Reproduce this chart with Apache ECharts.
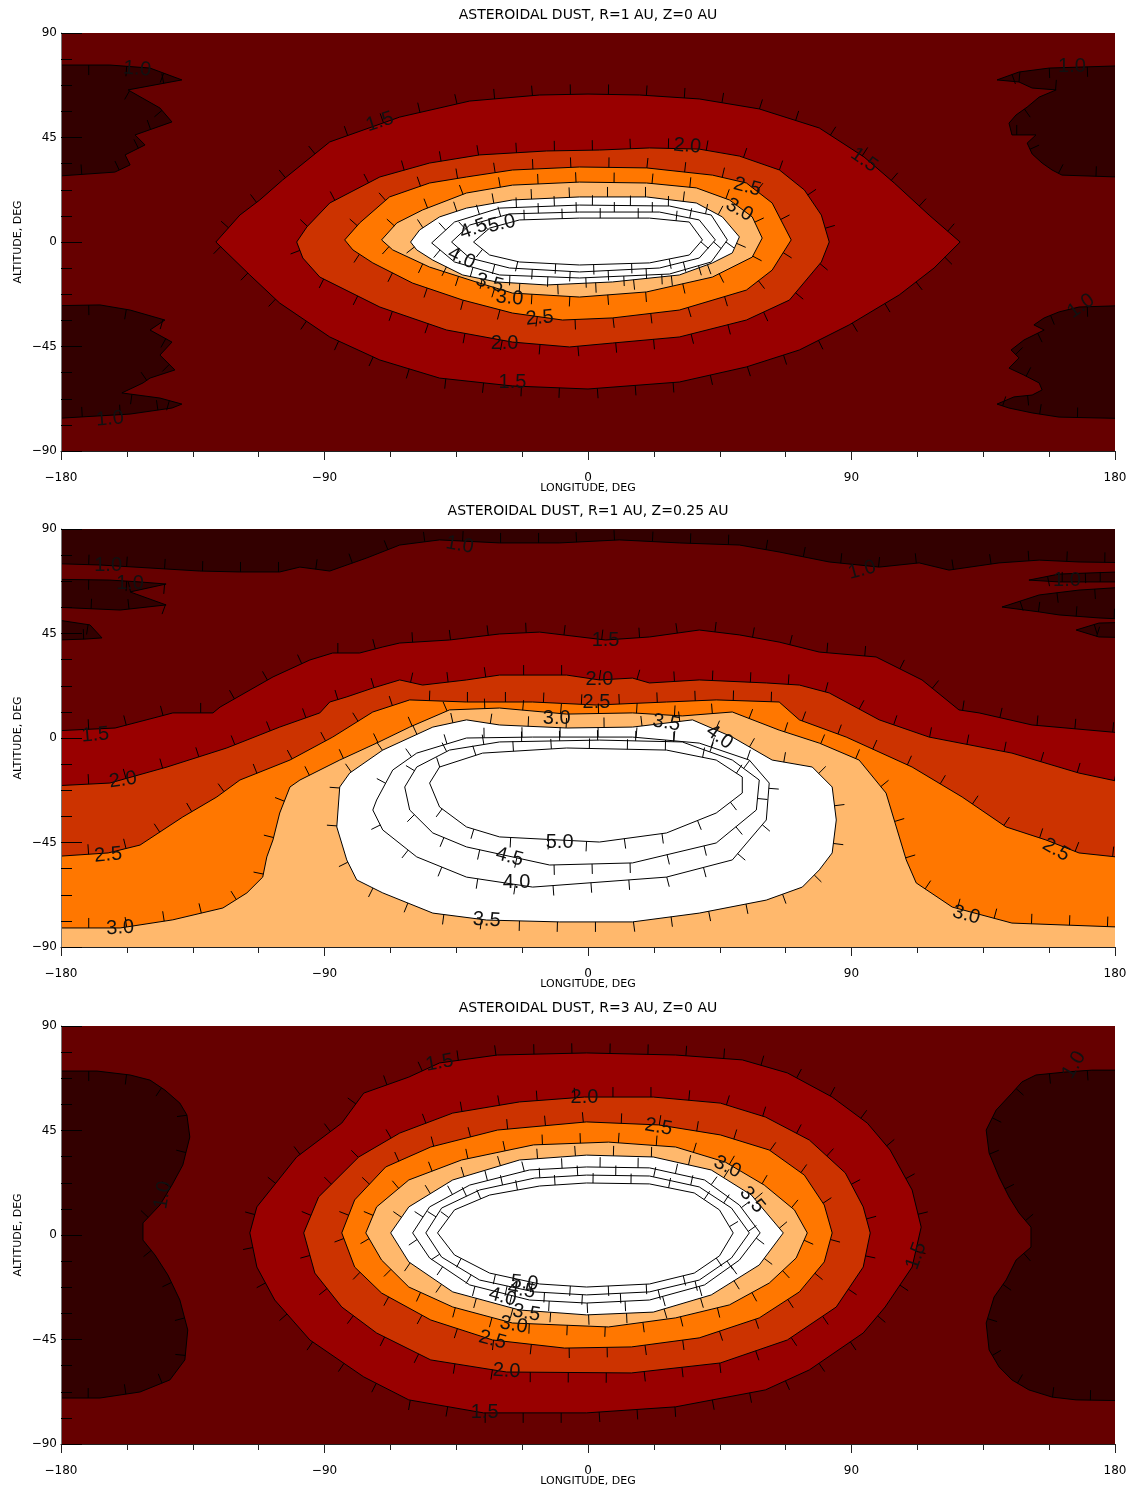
<!DOCTYPE html>
<html><head><meta charset="utf-8">
<script src="https://cdn.jsdelivr.net/npm/echarts@6/dist/echarts.min.js"></script>
<style>html,body{margin:0;padding:0;background:#fff}#c{width:1147px;height:1495px}</style>
</head><body><div id="c"></div>
<script>
// ---------------- DATA (longitude, altitude in degrees) ----------------
const TITLES = ['ASTEROIDAL DUST, R=1 AU, Z=0 AU', 'ASTEROIDAL DUST, R=1 AU, Z=0.25 AU', 'ASTEROIDAL DUST, R=3 AU, Z=0 AU'];
const X_TICKS = [-180, -90, 0, 90, 180];
const Y_TICKS = [-90, -45, 0, 45, 90];

// Panel 1: R=1 AU, Z=0 AU
const P1_LOW_NW = [[-190,76.2],[-163.3,76.2],[-149.6,74.9],[-138.7,69.8],[-157.1,65.5],[-146.2,57.7],[-142.1,51.7],[-154.7,46.1],[-151.3,41.8],[-158.1,37.5],[-156.4,33.2],[-161.6,30.1],[-190,27.6]];
const P1_LOW_SW = [[-190,-27.6],[-166.7,-27.1],[-156.4,-29.3],[-144.5,-33.6],[-149.6,-37.9],[-142.1,-43.1],[-146.2,-48.7],[-141.1,-55.1],[-149.6,-58.6],[-152.0,-60.7],[-159.2,-65.0],[-146.2,-67.2],[-138.7,-69.8],[-142.1,-71.5],[-156.4,-74.1],[-190,-76.6]];
const P1_LOW_NE = [[190,76.2],[157.5,74.9],[147.2,73.2],[139.7,69.8],[147.2,68.9],[151.7,66.3],[159.9,65.5],[154.1,62.4],[150.0,58.1],[146.2,54.7],[143.8,51.2],[144.8,46.1],[153.0,46.1],[150.0,42.6],[151.7,37.9],[155.1,34.0],[158.5,31.0],[161.9,28.8],[190,27.6]];
const P1_LOW_SE = [[190,-27.1],[167.7,-28.0],[160.9,-30.1],[155.8,-32.7],[152.3,-35.7],[155.8,-37.9],[148.9,-42.2],[144.5,-46.5],[147.2,-49.9],[143.8,-54.3],[148.9,-57.3],[154.1,-60.7],[155.1,-63.7],[151.7,-65.9],[145.5,-66.7],[139.7,-69.8],[143.8,-71.5],[151.7,-73.6],[160.9,-75.4],[190,-76.2]];
const P1_C15 = [[-127.1,0],[-118.9,11.6],[-112.1,18.1],[-104.3,26.7],[-88.2,43.1],[-64.3,53.8],[-40.4,60.7],[-16.5,63.3],[0,63.7],[17.6,63.3],[38.0,61.6],[58.5,57.3],[79.0,49.1],[94.3,36.6],[104.6,25.4],[116.5,11.6],[127.1,0],[118.2,-11.2],[106.3,-22.8],[89.2,-35.7],[72.2,-46.5],[54.1,-53.8],[31.2,-60.3],[0,-63.3],[-25.8,-62.0],[-50.7,-58.6],[-71.1,-50.8],[-88.2,-40.9],[-105.3,-26.3],[-115.5,-14.2]];
const P1_C20 = [[-99.5,0],[-96.0,6.5],[-88.2,16.8],[-71.1,28.0],[-54.1,34.0],[-37.0,37.5],[-14.2,39.2],[3.9,39.6],[21.0,40.5],[38.0,40.0],[51.7,37.0],[65.4,31.0],[73.9,22.4],[79.7,11.6],[82.4,0],[79.7,-8.6],[68.8,-25.0],[54.1,-33.6],[31.2,-40.9],[8.4,-43.5],[-6.3,-45.2],[-25.8,-43.1],[-48.3,-37.9],[-71.1,-28.0],[-91.6,-15.1],[-97.4,-6.9]];
const P1_C25 = [[-83.1,0.9],[-78.0,8.2],[-67.8,19.4],[-54.1,25.4],[-41.5,28.0],[-25.8,31.0],[-2.9,32.3],[20.0,31.9],[42.5,28.8],[54.1,25.4],[62.9,16.8],[69.4,0.9],[62.9,-12.1],[54.1,-20.7],[31.2,-29.3],[8.4,-32.7],[-8.7,-33.6],[-25.8,-30.6],[-42.8,-25.0],[-59.9,-17.7],[-73.5,-9.0],[-80.3,-3.4]];
const P1_C30 = [[-70.5,0.9],[-65.3,8.2],[-56.5,13.8],[-41.5,21.1],[-25.8,24.5],[-2.9,25.8],[20.0,25.4],[37.0,23.3],[48.3,18.1],[56.1,10.8],[59.5,1.7],[56.1,-6.5],[42.5,-15.1],[20.0,-21.5],[-2.9,-23.7],[-25.8,-22.0],[-37.0,-17.7],[-54.1,-10.8],[-66.7,-3.4]];
const P1_C35 = [[-60.6,0],[-57.5,5.2],[-50.7,10.8],[-41.5,14.6],[-25.8,18.1],[-2.9,19.4],[20.0,19.4],[37.0,16.8],[45.9,10.8],[51.7,2.2],[49.3,-4.7],[42.5,-9.0],[31.2,-14.2],[8.4,-17.2],[-14.2,-18.5],[-31.2,-17.2],[-42.8,-14.2],[-53.0,-7.8],[-58.5,-3.4]];
const P1_C40 = [[-53.4,-0.4],[-45.6,8.6],[-30.2,14.6],[-2.9,15.9],[27.8,15.5],[42.1,11.6],[47.6,0.9],[42.1,-8.6],[27.8,-13.8],[-2.9,-15.5],[-30.2,-14.2],[-45.6,-8.6]];
const P1_C45 = [[-46.6,0],[-40.4,7.3],[-26.8,12.1],[-2.9,12.9],[24.4,12.9],[38.0,9.5],[43.5,0.9],[38.0,-6.9],[24.4,-11.2],[-2.9,-12.9],[-26.8,-11.2],[-40.4,-6.9]];
const P1_C50 = [[-39.1,0],[-33.6,6.0],[-23.4,9.5],[-2.9,10.3],[21.0,10.3],[34.6,8.6],[39.1,0.9],[34.6,-5.6],[21.0,-9.0],[-2.9,-9.9],[-23.4,-8.6],[-33.6,-5.6]];
const P1_LABELS = [[-154.0,74.5,'1.0',-5],[165.3,75.4,'1.0',0],[-163.3,-76.2,'1.0',5],[168.4,-27.6,'1.0',35],
  [-71.1,51.7,'1.5',18],[94.3,35.3,'1.5',-35],[-25.8,-60.7,'1.5',0],[33.9,41.3,'2.0',-5],[-28.5,-43.5,'2.0',0],
  [54.4,23.7,'2.5',-15],[-16.5,-32.7,'2.5',5],[51.7,13.8,'3.0',-30],[-26.8,-24.1,'3.0',-5],[-33.6,-17.7,'3.5',-15],
  [-43.2,-6.9,'4.0',-25],[-39.1,5.6,'4.5',20],[-29.5,7.8,'5.0',12]];

// Panel 2: R=1 AU, Z=0.25 AU
const P2_LOW_TOP = [[-190,75.4],[-166.7,74.5],[-149.6,73.2],[-132.6,71.9],[-118.9,71.5],[-105.3,71.5],[-98.4,73.6],[-88.2,71.9],[-75.6,77.5],[-64.3,83.1],[-50.7,85.3],[-30.2,84.0],[-9.7,84.0],[10.7,85.3],[31.2,84.0],[51.7,83.1],[65.3,80.1],[82.4,75.8],[99.5,73.6],[113.1,75.4],[123.3,72.3],[140.4,75.4],[154.1,76.6],[167.7,75.8],[190,75.4],[190,100],[-190,100]];
const P2_LOW_W1 = [[-190,68.5],[-163.3,68.0],[-153.0,67.2],[-144.1,66.3],[-156.4,62.9],[-144.1,57.3],[-159.8,55.1],[-190,56.8]];
const P2_LOW_W2 = [[-190,52.5],[-170.1,48.7],[-166.0,43.1],[-171.8,42.6],[-190,41.8]];
const P2_LOW_E1 = [[150.6,68.0],[160.9,70.6],[190,71.9],[190,67.2],[160.9,67.2]];
const P2_LOW_E2 = [[141.4,56.4],[154.1,61.6],[167.7,63.7],[190,65.5],[190,50.8],[174.5,51.7],[160.9,53.0],[154.1,54.3]];
const P2_LOW_E3 = [[166.7,46.5],[174.5,49.5],[190,50.0],[190,43.1],[174.5,43.5]];
const P2_C15 = [[-190,2.6],[-161.5,4.3],[-147.2,9.0],[-141.8,10.8],[-128.1,10.8],[-125.7,13.3],[-107.6,26.3],[-95.0,33.6],[-87.2,36.6],[-78.0,36.6],[-70.1,39.2],[-64.3,40.9],[-47.3,42.2],[-30.2,44.8],[-16.5,45.6],[6.0,42.2],[21.0,43.5],[38.0,46.5],[51.7,44.4],[65.3,41.3],[79.0,37.0],[98.4,34.9],[114.1,25.0],[126.7,12.1],[133.6,10.8],[151.7,5.6],[190,1.3],[190,-100],[-190,-100]];
const P2_C20 = [[-190,-21.1],[-163.3,-19.4],[-143.8,-12.5],[-123.4,-4.3],[-105.3,4.7],[-91.6,10.8],[-88.2,15.5],[-82.4,17.7],[-73.5,21.5],[-64.3,25.0],[-56.5,22.8],[-41.5,25.0],[-30.2,27.1],[-7.3,27.1],[3.9,25.0],[15.2,25.8],[21.0,23.7],[38.0,25.0],[60.9,23.7],[72.2,22.8],[82.4,19.4],[99.5,7.8],[116.5,0.4],[144.8,-6.5],[167.7,-15.1],[190,-21.1],[190,-100],[-190,-100]];
const P2_C25 = [[-190,-51.7],[-163.9,-49.5],[-153.0,-46.1],[-138.4,-34.0],[-126.8,-25.4],[-118.9,-18.1],[-101.8,-9.5],[-87.2,0.4],[-73.5,11.2],[-60.9,16.4],[-41.5,15.5],[-18.9,15.5],[2.9,14.2],[26.8,15.5],[43.8,16.4],[65.3,15.5],[72.2,7.8],[88.2,0.4],[110.7,-12.5],[127.8,-25.4],[142.8,-38.3],[156.4,-43.9],[167.7,-49.5],[190,-52.5],[190,-100],[-190,-100]];
const P2_C30 = [[-190,-81.8],[-159.8,-81.8],[-141.8,-78.3],[-124.7,-73.2],[-116.5,-66.7],[-111.1,-59.9],[-109.7,-51.2],[-107.6,-43.9],[-105.3,-32.3],[-101.8,-21.1],[-98.4,-18.1],[-84.8,-9.5],[-72.2,-2.2],[-60.9,4.7],[-47.3,12.1],[-30.2,12.9],[-7.3,10.3],[15.2,10.8],[32.2,9.5],[49.3,11.2],[65.3,3.4],[79.0,-2.2],[92.6,-9.5],[101.8,-23.7],[105.3,-38.3],[108.7,-52.5],[112.1,-62.4],[124.4,-72.8],[144.8,-79.7],[190,-81.8],[190,-100],[-190,-100]];
const P2_C35 = [[-84.8,-21.1],[-81.4,-15.1],[-70.1,-5.2],[-53.0,4.7],[-41.5,7.8],[-30.2,5.6],[-7.3,4.3],[15.2,4.7],[35.7,7.8],[49.3,0.4],[62.9,-9.5],[76.6,-12.5],[83.4,-21.1],[84.8,-35.3],[83.4,-49.5],[79.0,-56.8],[73.2,-64.2],[60.9,-69.8],[38.0,-75.4],[15.2,-79.2],[-9.7,-79.2],[-34.6,-78.4],[-53.0,-75.4],[-70.1,-66.7],[-79.0,-61.1],[-82.4,-52.5],[-85.8,-38.3]];
const P2_C40 = [[-72.2,-26.7],[-66.7,-13.8],[-58.5,-6.5],[-41.5,0],[-18.9,0.4],[15.2,0.4],[38.0,-2.2],[55.1,-9.5],[61.9,-19.4],[60.9,-35.3],[49.3,-52.5],[26.8,-59.9],[-18.9,-64.2],[-41.5,-59.9],[-58.5,-51.2],[-70.1,-39.6],[-73.5,-31.0]];
const P2_C45 = [[-62.6,-21.1],[-58.5,-12.5],[-47.3,-5.2],[-30.2,-1.7],[3.9,-0.9],[32.2,-1.7],[49.3,-9.5],[58.5,-18.1],[57.5,-31.0],[43.8,-45.2],[15.2,-53.8],[-13.1,-54.7],[-41.5,-46.9],[-53.0,-40.9],[-60.9,-31.0]];
const P2_C50 = [[-54.1,-19.4],[-50.7,-12.5],[-36.0,-6.5],[-7.3,-4.3],[26.8,-5.2],[43.8,-9.5],[52.7,-16.8],[52.7,-23.7],[43.8,-32.3],[26.8,-40.9],[3.9,-44.8],[-30.2,-42.6],[-41.5,-38.3],[-50.7,-29.7]];
const P2_LABELS = [[-163.9,74.5,'1.0',0],[-156.4,66.7,'1.0',0],[-43.8,83.1,'1.0',-10],[93.6,72.3,'1.0',15],[163.6,68.0,'1.0',0],
  [-168.3,1.3,'1.5',5],[6.0,41.8,'1.5',0],[-158.8,-18.1,'2.0',8],[3.9,25.0,'2.0',0],
  [-163.9,-50.4,'2.5',5],[2.9,15.1,'2.5',0],[159.9,-48.2,'2.5',-30],
  [-159.8,-81.8,'3.0',3],[-10.7,8.6,'3.0',0],[129.2,-76.2,'3.0',-15],
  [-34.6,-78.4,'3.5',-3],[26.8,6.5,'3.5',-10],[-24.4,-62.4,'4.0',0],[44.9,0.4,'4.0',-35],
  [-26.8,-51.2,'4.5',-15],[-9.7,-45.2,'5.0',0]];

// Panel 3: R=3 AU, Z=0 AU
const P3_LOW_W = [[-190,70.6],[-167.7,70.6],[-156.4,68.9],[-149.6,66.7],[-144.5,62.4],[-139.4,56.8],[-137.0,51.7],[-136.0,42.2],[-138.4,30.1],[-142.1,21.5],[-146.2,12.9],[-152.0,5.2],[-152.0,-2.2],[-147.9,-8.6],[-143.5,-17.2],[-139.4,-28.0],[-136.7,-40.9],[-137.7,-53.8],[-142.8,-62.4],[-153.0,-67.6],[-166.7,-70.2],[-190,-70.2]];
const P3_LOW_E = [[190,71.0],[172.1,71.0],[163.3,70.2],[153.0,68.9],[148.2,65.9],[144.8,61.1],[139.4,53.8],[136.0,45.2],[137.0,35.3],[140.4,25.0],[143.8,16.4],[147.2,9.5],[151.3,3.4],[151.3,-5.2],[146.2,-10.8],[142.8,-19.4],[138.7,-26.7],[136.0,-37.9],[137.0,-49.5],[140.4,-56.8],[144.8,-62.4],[150.6,-66.7],[158.5,-69.8],[166.7,-71.0],[190,-71.5]];
const P3_C15 = [[-115.5,0.9],[-113.1,12.1],[-99.5,33.6],[-84.1,48.2],[-76.6,61.1],[-61.2,68.0],[-50.7,74.1],[-30.9,77.5],[-0.5,78.4],[29.9,77.5],[52.7,75.4],[68.1,69.8],[83.4,59.4],[95.4,48.2],[103.2,36.6],[110.7,19.4],[113.8,3.4],[110.7,-13.8],[101.5,-31.0],[94.0,-42.2],[75.6,-58.1],[60.6,-66.7],[29.9,-74.0],[-0.5,-76.6],[-35.7,-76.6],[-61.2,-71.0],[-76.6,-61.1],[-95.0,-45.2],[-107.0,-28.0],[-113.1,-13.8]];
const P3_C20 = [[-97.1,0.9],[-92.0,16.4],[-78.3,33.6],[-64.3,43.9],[-46.2,52.5],[-23.4,57.3],[-1.2,59.4],[22.3,59.4],[45.2,56.8],[60.6,50.8],[75.6,40.9],[87.9,26.7],[94.0,12.1],[96.4,0.9],[94.0,-13.8],[84.8,-31.0],[68.1,-45.2],[45.2,-55.1],[14.8,-59.4],[-27.8,-59.0],[-53.7,-53.8],[-72.2,-42.2],[-84.1,-31.0],[-93.3,-16.4]];
const P3_C25 = [[-84.1,0.9],[-79.7,15.1],[-69.1,29.3],[-53.7,37.9],[-30.9,45.2],[-0.5,48.7],[24.1,47.4],[45.2,43.1],[61.9,36.6],[73.9,25.8],[80.7,12.9],[83.4,0.9],[80.7,-11.6],[72.2,-24.5],[58.5,-35.7],[38.0,-44.3],[14.8,-48.2],[-8.0,-48.7],[-32.6,-45.2],[-53.7,-36.6],[-70.5,-25.0],[-79.7,-13.8]];
const P3_C30 = [[-75.9,0.9],[-72.2,12.1],[-61.2,23.7],[-43.2,32.3],[-18.6,38.8],[7.0,40.0],[29.9,37.9],[46.9,31.4],[60.2,21.5],[70.5,10.8],[74.9,0.9],[71.1,-9.9],[61.9,-20.7],[48.3,-30.1],[29.9,-35.7],[7.0,-39.6],[-25.8,-37.9],[-46.2,-31.0],[-61.2,-22.4],[-70.5,-10.8]];
const P3_C35 = [[-67.4,0.9],[-61.2,12.1],[-46.2,23.7],[-23.4,32.3],[-0.5,34.4],[22.3,33.6],[42.1,28.0],[55.8,17.2],[66.7,0.9],[58.5,-12.9],[42.1,-25.8],[22.3,-33.2],[-0.5,-34.4],[-23.4,-32.3],[-46.2,-24.5],[-61.2,-11.6]];
const P3_C40 = [[-59.9,0.9],[-54.1,12.1],[-40.4,21.5],[-20.0,28.0],[-0.5,29.3],[21.0,28.9],[39.8,23.7],[51.7,12.9],[58.8,0.9],[51.7,-10.8],[39.8,-21.5],[21.0,-28.0],[-0.5,-29.3],[-20.0,-28.0],[-40.4,-21.5],[-54.1,-9.9]];
const P3_C45 = [[-55.4,0.9],[-50.0,11.6],[-37.0,19.4],[-18.3,24.5],[-0.5,25.8],[21.0,25.4],[38.0,20.7],[49.0,11.6],[55.1,0.9],[49.0,-9.9],[38.0,-19.4],[21.0,-24.5],[-0.5,-25.8],[-18.3,-24.5],[-37.0,-19.4],[-50.0,-9.5]];
const P3_C50 = [[-51.4,0.9],[-45.6,10.8],[-33.6,17.2],[-16.5,21.1],[-0.5,22.4],[21.0,22.0],[36.3,18.1],[44.9,10.8],[49.6,0.9],[44.9,-9.0],[36.3,-16.4],[21.0,-21.1],[-0.5,-22.4],[-16.5,-21.1],[-33.6,-16.4],[-45.6,-8.6]];
const P3_LABELS = [[-145.2,17.2,'1.0',80],[166.0,73.2,'1.0',60],[-50.7,74.1,'1.5',10],[-35.3,-76.6,'1.5',0],[112.1,-9.0,'1.5',70],
  [-1.2,59.4,'2.0',0],[-27.8,-58.6,'2.0',-3],[24.1,46.5,'2.5',-10],[-32.6,-45.2,'2.5',-15],
  [47.6,29.3,'3.0',-25],[-25.4,-38.8,'3.0',-10],[56.1,15.1,'3.5',-50],[-21.0,-33.6,'3.5',-10],
  [-29.2,-26.7,'4.0',-15],[-22.7,-23.7,'4.5',-10],[-21.7,-20.7,'5.0',-5]];

// ---------------- STYLE ----------------
const FILLS = {'low':'#330000','1.5':'#990000','2.0':'#cc3300','2.5':'#ff7700','3.0':'#ffb86c','3.5':'#ffffff','4.0':'#ffffff','4.5':'#ffffff','5.0':'#ffffff'};
const BASE_FILL = '#660000';
const GRID_TOPS = [33, 529, 1026];
const GRID_H = 418, GRID_L = 61, GRID_W = 1054;

const PANELS = [
  {shapes: [['low',P1_LOW_NW],['low',P1_LOW_SW],['low',P1_LOW_NE],['low',P1_LOW_SE],['1.5',P1_C15],['2.0',P1_C20],['2.5',P1_C25],['3.0',P1_C30],['3.5',P1_C35],['4.0',P1_C40],['4.5',P1_C45],['5.0',P1_C50]], labels: P1_LABELS},
  {shapes: [['low',P2_LOW_TOP],['low',P2_LOW_W1],['low',P2_LOW_W2],['low',P2_LOW_E1],['low',P2_LOW_E2],['low',P2_LOW_E3],['1.5',P2_C15],['2.0',P2_C20],['2.5',P2_C25],['3.0',P2_C30],['3.5',P2_C35],['4.0',P2_C40],['4.5',P2_C45],['5.0',P2_C50]], labels: P2_LABELS},
  {shapes: [['low',P3_LOW_W],['low',P3_LOW_E],['1.5',P3_C15],['2.0',P3_C20],['2.5',P3_C25],['3.0',P3_C30],['3.5',P3_C35],['4.0',P3_C40],['4.5',P3_C45],['5.0',P3_C50]], labels: P3_LABELS}
];

function minusFmt(v) { return String(v).replace('-', '\u2212'); }

// downhill tick marks along a closed screen polygon
function downhillTicks(pts, inward) {
  const spacing = 38, len = 10;
  let area = 0;
  for (let i = 0; i < pts.length; i++) {
    const a = pts[i], b = pts[(i + 1) % pts.length];
    area += a[0] * b[1] - b[0] * a[1];
  }
  let sgn = area > 0 ? 1 : -1;
  if (inward) sgn = -sgn;
  const out = [];
  let pos = spacing * 0.5;
  for (let i = 0; i < pts.length; i++) {
    const a = pts[i], b = pts[(i + 1) % pts.length];
    const dx = b[0] - a[0], dy = b[1] - a[1];
    const L = Math.hypot(dx, dy);
    if (L < 1e-6) continue;
    while (pos <= L) {
      const px = a[0] + dx * pos / L, py = a[1] + dy * pos / L;
      const nx = sgn * dy / L, ny = -sgn * dx / L;
      out.push([px, py, px + nx * len, py + ny * len]);
      pos += spacing;
    }
    pos -= L;
  }
  return out;
}

const grids = [], xAxes = [], yAxes = [], series = [], graphics = [];
PANELS.forEach((panel, gi) => {
  grids.push({left: GRID_L, top: GRID_TOPS[gi], width: GRID_W, height: GRID_H, show: true,
    backgroundColor: BASE_FILL, borderWidth: 0, containLabel: false, outerBoundsMode: 'none'});
  xAxes.push({gridIndex: gi, type: 'value', min: X_TICKS[0], max: X_TICKS[X_TICKS.length - 1], interval: 90, z: 10,
    axisLine: {show: true, onZero: false, lineStyle: {color: '#222', width: 1}},
    axisTick: {show: true, length: 9, lineStyle: {color: '#222'}},
    minorTick: {show: true, splitNumber: 4, length: 6, lineStyle: {color: '#222'}},
    splitLine: {show: false}, minorSplitLine: {show: false},
    axisLabel: {formatter: minusFmt, fontSize: 12, color: '#000', margin: 21, fontFamily: 'DejaVu Sans'},
    name: 'LONGITUDE, DEG', nameLocation: 'middle', nameGap: 32, nameMoveOverlap: false,
    nameTextStyle: {fontSize: 11, color: '#000', fontFamily: 'DejaVu Sans'}});
  yAxes.push({gridIndex: gi, type: 'value', min: Y_TICKS[0], max: Y_TICKS[Y_TICKS.length - 1], interval: 45, z: 10,
    axisLine: {show: true, onZero: false, lineStyle: {color: '#777', width: 1}},
    axisTick: {show: true, inside: true, length: 21, lineStyle: {color: '#000'}},
    minorTick: {show: true, splitNumber: 4, length: 11, lineStyle: {color: '#000'}},
    splitLine: {show: false}, minorSplitLine: {show: false},
    axisLabel: {formatter: minusFmt, fontSize: 12, color: '#000', margin: 4, fontFamily: 'DejaVu Sans'},
    name: 'ALTITUDE, DEG', nameLocation: 'middle', nameRotate: 90, nameGap: 37, nameMoveOverlap: false,
    nameTextStyle: {fontSize: 11, color: '#000', fontFamily: 'DejaVu Sans'}});
  const shapes = panel.shapes;
  series.push({
    type: 'custom', xAxisIndex: gi, yAxisIndex: gi, silent: true, animation: false, z: 2,
    data: shapes.map(() => [0, 0]),
    renderItem: function (params, api) {
      const s = shapes[params.dataIndex];
      const pts = s[1].map(p => api.coord(p));
      const cs = params.coordSys;
      const children = [{type: 'polygon', z2: params.dataIndex * 10, shape: {points: pts},
        style: {fill: FILLS[s[0]], stroke: '#000', lineWidth: 1}}];
      downhillTicks(pts, s[0] === 'low').forEach(t => children.push({type: 'line', z2: params.dataIndex * 10 + 1,
        shape: {x1: t[0], y1: t[1], x2: t[2], y2: t[3]}, style: {stroke: '#000', lineWidth: 1}}));
      return {type: 'group', children: children,
        clipPath: {type: 'rect', shape: {x: cs.x, y: cs.y, width: cs.width, height: cs.height}}};
    }
  });
  const labels = panel.labels;
  series.push({
    type: 'custom', xAxisIndex: gi, yAxisIndex: gi, silent: true, animation: false, z: 5,
    data: labels.map(() => [0, 0]),
    renderItem: function (params, api) {
      const l = labels[params.dataIndex];
      const p = api.coord([l[0], l[1]]);
      return {type: 'text', x: p[0], y: p[1], rotation: l[3] * Math.PI / 180,
        style: {text: l[2], font: '20px "Liberation Sans"', fill: '#111', align: 'center', verticalAlign: 'middle'}};
    }
  });
  graphics.push({type: 'text', x: GRID_L + GRID_W / 2, y: GRID_TOPS[gi] - 18,
    style: {text: TITLES[gi], font: '14px "DejaVu Sans"', fill: '#000', align: 'center', verticalAlign: 'middle'}});
});

const chart = echarts.init(document.getElementById('c'), null, {renderer: 'canvas'});
chart.setOption({
  animation: false,
  backgroundColor: '#fff',
  grid: grids, xAxis: xAxes, yAxis: yAxes, series: series, graphic: graphics
});
</script></body></html>
